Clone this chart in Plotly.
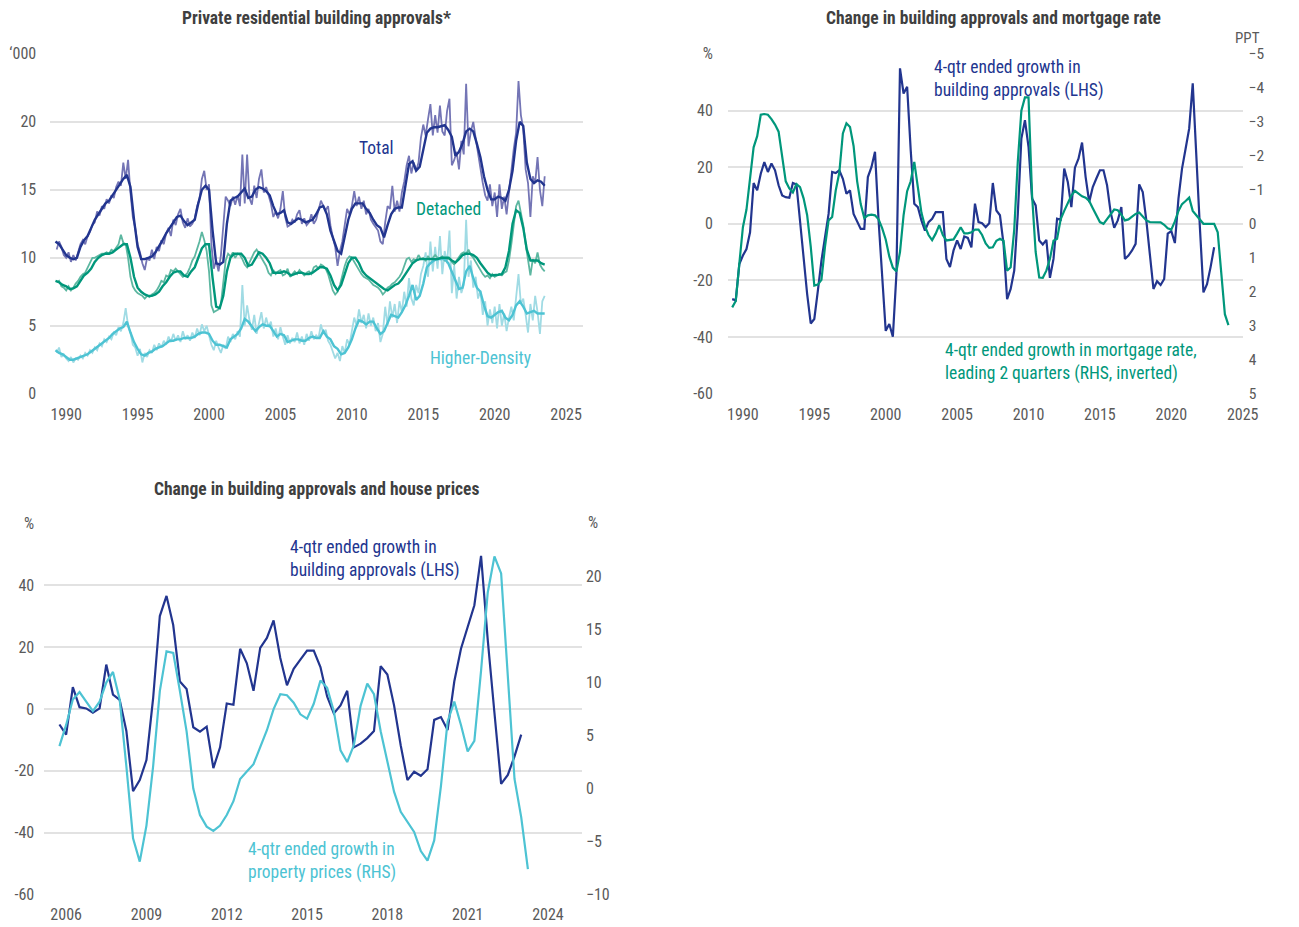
import plotly.graph_objects as go

# ---------------- Chart 1: Private residential building approvals ('000) ----------------
# quarterly trend series, first point 1989.25
total_trend = [11.2, 11.0, 10.6,
    10.2, 10.0, 9.9, 10.0,
    10.8, 11.3, 11.6, 12.2,
    12.8, 13.2, 13.6, 14.0,
    14.2, 14.6, 15.0, 15.4,
    15.8, 16.1, 15.2, 12.8,
    10.8, 9.9, 9.9, 10.0,
    10.1, 10.4, 10.8, 11.3,
    11.8, 12.2, 12.7, 13.0,
    13.1, 12.7, 12.4, 12.6,
    12.8, 14.0, 15.0, 15.3,
    15.0, 12.0, 9.6, 9.5,
    9.7, 12.5, 14.2, 14.4,
    14.5, 14.8, 15.1, 14.4,
    14.5, 15.0, 15.2, 15.1,
    14.9, 14.6, 13.8, 13.2,
    13.3, 13.5, 12.6, 12.5,
    12.7, 12.9, 12.8, 12.6,
    12.7, 12.8, 13.2, 13.7,
    13.8, 13.2, 12.0, 11.2,
    10.5, 10.3, 11.5, 12.8,
    13.6, 14.0, 14.0, 14.0,
    13.6, 13.3, 12.8, 12.4,
    12.2, 11.5, 12.4, 13.2,
    13.6, 13.7, 13.7, 15.2,
    16.9, 17.1, 16.4, 16.7,
    17.9, 19.2, 19.5, 19.6,
    19.6, 19.7, 19.75, 19.4,
    18.9, 17.5, 17.8, 18.4,
    19.3, 19.5, 19.3, 18.4,
    17.4, 16.0, 15.0, 14.3,
    14.3, 14.5, 14.4, 14.2,
    15.0, 16.4, 18.6, 20.0,
    19.7, 17.0, 15.8, 15.5,
    15.7, 15.6, 15.3]

detached_trend = [8.3, 8.2, 8.0,
    7.9, 7.7, 7.75, 7.9,
    8.3, 8.7, 8.9, 9.2,
    9.7, 10.0, 10.2, 10.3,
    10.3, 10.4, 10.6, 10.8,
    11.0, 11.0, 10.0, 8.6,
    7.8, 7.5, 7.3, 7.2,
    7.2, 7.3, 7.5, 7.9,
    8.2, 8.6, 8.9, 9.0,
    9.0, 8.7, 8.6, 9.0,
    9.3, 10.0, 10.7, 11.0,
    11.0, 8.5, 6.4, 6.3,
    7.2, 9.0, 10.0, 10.3,
    10.3, 10.3, 10.0, 9.4,
    9.5, 10.0, 10.4, 10.3,
    10.0, 9.6, 8.9, 8.9,
    8.9, 9.0, 8.9, 8.7,
    8.8, 8.9, 8.9, 8.8,
    8.8, 8.9, 9.1, 9.3,
    9.3, 9.2, 8.7, 8.0,
    7.6, 8.0, 8.8, 9.6,
    10.0, 10.0, 9.6, 9.0,
    8.7, 8.5, 8.3, 8.1,
    7.9, 7.7, 7.6, 7.8,
    8.0, 8.1, 8.4, 8.8,
    9.2, 9.6, 9.8, 9.9,
    9.9, 9.9, 9.9, 9.9,
    9.9, 10.0, 10.0, 10.0,
    9.8, 9.65, 9.9, 10.2,
    10.3, 10.3, 10.2, 10.0,
    9.6, 9.2, 8.9, 8.7,
    8.7, 8.75, 8.8, 9.3,
    10.5, 12.5, 13.5, 13.3,
    12.2, 10.6, 9.8, 9.8,
    9.8, 9.6, 9.5]

density_trend = [3.2, 3.0, 2.9,
    2.7, 2.5, 2.5, 2.6,
    2.7, 2.8, 2.9, 3.1,
    3.3, 3.5, 3.7, 3.9,
    4.1, 4.4, 4.6, 4.8,
    4.9, 5.3, 4.5, 3.8,
    3.3, 2.9, 2.8, 3.0,
    3.1, 3.3, 3.4, 3.5,
    3.7, 3.9, 3.9, 4.0,
    4.0, 4.1, 4.1, 4.1,
    4.2, 4.4, 4.5, 4.5,
    4.4, 3.9, 3.6, 3.6,
    3.5, 3.4, 4.0, 4.2,
    4.4, 4.8, 5.5, 5.3,
    4.9, 4.6, 4.9, 5.1,
    5.0, 5.0, 4.6, 4.2,
    4.4, 4.3, 3.8, 3.9,
    4.0, 4.0, 3.9, 3.9,
    4.1, 4.2, 4.1, 4.1,
    4.6, 4.2, 4.0, 3.5,
    3.3, 2.9, 3.0, 3.4,
    4.0, 4.8, 5.4, 5.3,
    5.1, 5.3, 5.3, 4.8,
    4.4, 4.6, 5.2, 5.8,
    5.7, 5.6, 6.0, 6.5,
    7.2, 8.0, 6.9, 7.2,
    8.1, 9.3, 9.6, 9.8,
    9.9, 9.9, 9.9, 9.6,
    9.0, 8.4, 7.7, 7.8,
    9.0, 9.4, 8.5, 7.8,
    7.5, 6.5, 5.7, 5.6,
    5.8, 6.0, 6.1, 5.6,
    5.4, 5.8, 6.5, 6.8,
    6.4, 5.9, 6.0, 6.1,
    5.9, 5.9, 5.9]

# bi-monthly original series, first point 1989 + 2/6
total_raw = [10.6, 11.2, 10.8, 10.2,
    10.0, 10.4, 9.7, 10.2, 9.8, 10.5,
    11.0, 11.3, 11.0, 11.6, 11.9, 12.4,
    12.6, 13.4, 13.1, 13.8, 13.6, 14.3,
    14.0, 14.6, 14.4, 15.2, 15.6, 15.3,
    17.0, 15.8, 17.2, 14.8, 13.0, 12.2,
    11.0, 10.4, 9.6, 9.1, 10.0, 9.8,
    10.6, 9.9, 10.8, 10.5, 11.3, 11.0,
    11.8, 12.2, 11.6, 12.8, 12.4, 13.2,
    13.6, 12.6, 12.2, 12.9, 12.3, 12.5,
    12.9, 13.8, 14.3, 15.8, 16.4, 15.0,
    15.4, 11.0, 9.2, 9.8, 9.0, 10.2,
    12.2, 14.5, 14.2, 13.8, 14.5, 13.9,
    14.6, 13.8, 17.6, 14.0, 17.6, 14.4,
    13.9, 15.3, 14.4, 15.8, 16.5, 14.8,
    15.2, 14.6, 14.0, 13.0, 13.4, 12.9,
    13.6, 14.9, 13.0, 12.3, 12.4, 12.8,
    12.6, 13.2, 13.5, 12.5, 12.9, 12.4,
    12.6, 13.2, 12.5, 12.8, 13.5, 14.2,
    13.8, 13.5, 13.8, 12.4, 11.5, 10.8,
    9.4, 10.5, 11.2, 12.4, 13.6, 13.2,
    13.8, 14.9, 13.8, 14.5, 13.6, 14.2,
    13.2, 13.6, 12.8, 12.5, 12.2, 12.0,
    11.2, 11.0, 12.6, 13.8, 13.6, 15.3,
    13.4, 14.2, 13.4, 14.8, 15.6, 16.8,
    17.5, 16.2, 17.0, 16.4, 17.0, 18.8,
    19.8, 19.0, 20.2, 21.3, 19.0, 20.5,
    19.2, 21.2, 19.3, 19.0, 20.8, 21.7,
    16.8, 17.2, 17.8, 16.5, 18.6, 17.6,
    22.8, 18.2, 19.3, 20.0, 18.8, 17.5,
    16.6, 15.5, 14.6, 14.2, 15.4, 13.8,
    14.8, 13.0, 15.4, 13.6, 14.5, 13.2,
    14.8, 16.8, 18.0, 19.2, 23.0, 20.5,
    19.5, 16.5, 15.5, 13.0, 16.0, 15.5,
    17.4, 15.0, 13.8, 16.0]

detached_raw = [8.2, 8.3, 7.9, 7.8,
    7.6, 7.9, 7.6, 7.8, 8.1, 8.3,
    8.6, 8.8, 8.9, 9.3, 9.6, 10.0,
    10.0, 10.1, 10.2, 10.3, 10.3, 10.4,
    10.3, 10.6, 10.5, 10.8, 11.0, 11.7,
    11.1, 11.0, 10.0, 8.6, 7.9, 7.6,
    7.4, 7.3, 7.2, 7.0, 7.2, 7.1,
    7.3, 7.4, 7.6, 7.9, 8.3, 8.2,
    8.7, 8.6, 9.1, 9.0, 9.2, 9.0,
    8.8, 8.6, 8.7, 8.9, 9.3, 9.8,
    10.1, 10.6, 11.2, 11.9, 11.3, 10.5,
    9.0, 6.5, 6.0, 6.1, 6.2, 6.6,
    8.0, 9.8, 10.3, 10.1, 10.4, 10.0,
    10.3, 10.2, 9.9, 9.5, 9.3, 9.7,
    10.0, 10.4, 10.6, 10.3, 10.0, 9.7,
    9.4, 8.9, 8.7, 9.1, 8.8, 9.0,
    9.1, 8.7, 8.8, 9.2, 8.6, 8.8,
    9.0, 8.8, 9.1, 8.9, 8.7, 8.9,
    9.0, 8.8, 9.3, 9.4, 9.2, 9.5,
    9.4, 9.2, 8.8, 8.2, 7.6, 7.3,
    7.5, 8.0, 8.8, 9.4, 9.9, 10.1,
    10.0, 9.7, 9.4, 9.0, 8.8, 8.6,
    8.5, 8.4, 8.2, 8.0, 7.9, 7.8,
    7.6, 7.3, 7.5, 7.8, 7.9, 8.1,
    8.2, 8.4, 8.6, 8.9, 9.4, 9.9,
    10.0, 9.7, 9.9, 9.8, 10.2, 9.9,
    10.0, 9.8, 10.1, 9.9, 10.0, 10.2,
    10.0, 9.9, 10.1, 9.8, 9.9, 10.0,
    9.7, 9.5, 9.8, 10.1, 10.3, 10.4,
    10.3, 10.6, 10.2, 10.0, 9.7, 9.3,
    9.0, 8.8, 8.6, 8.7, 8.5, 8.8,
    8.6, 8.7, 8.8, 8.7, 8.9, 9.0,
    9.8, 11.0, 12.6, 13.8, 14.2, 13.4,
    12.4, 11.0, 10.0, 8.7, 9.9, 9.6,
    10.4, 9.5, 9.2, 9.0]

density_raw = [3.0, 3.4, 2.7, 2.9,
    2.6, 2.4, 2.7, 2.3, 2.6, 2.5,
    2.8, 2.6, 3.0, 2.8, 3.2, 3.0,
    3.4, 3.2, 3.7, 3.5, 4.0, 3.8,
    4.2, 4.0, 4.5, 4.3, 4.9, 4.6,
    5.2, 6.3, 5.0, 4.5, 3.6, 3.4,
    2.8, 3.3, 2.3, 3.0, 2.7, 3.2,
    3.0, 3.6, 3.2, 3.7, 3.4, 3.9,
    3.6, 4.2, 3.8, 4.4, 3.9, 4.3,
    3.8, 4.6, 4.0, 4.3, 3.9, 4.5,
    4.1, 4.8, 4.3, 5.1, 4.6, 5.0,
    4.3, 3.6, 3.2, 3.9, 3.4, 3.0,
    3.6, 3.3, 4.2, 3.8, 4.4, 4.0,
    4.6, 4.2, 8.0, 5.0, 6.5, 5.4,
    4.7, 5.8, 4.4, 5.2, 6.0, 4.8,
    5.6, 4.9, 5.3, 4.2, 4.8, 4.0,
    4.9, 4.2, 3.6, 4.3, 3.7, 4.1,
    3.8, 4.5, 3.7, 4.2, 3.6, 4.4,
    3.9, 4.6, 4.0, 4.3, 4.1, 5.1,
    4.4, 4.7, 3.9, 3.6, 3.1, 2.6,
    3.0, 2.4, 3.5, 3.0, 4.0, 3.6,
    4.6, 5.6, 5.0, 6.2, 5.2, 5.8,
    4.8, 5.9, 5.0, 5.6, 4.6, 5.2,
    3.8, 4.4, 6.4, 5.0, 6.8, 5.6,
    6.6, 5.2, 6.8, 6.0, 7.5, 6.4,
    8.5, 7.0, 6.5, 8.0, 7.4, 8.8,
    9.4, 10.4, 8.6, 11.2, 9.0, 10.8,
    9.2, 11.6, 8.8, 10.5, 9.6, 12.0,
    7.4, 9.4, 7.0, 8.6, 7.4, 8.0,
    12.8, 8.6, 9.8, 7.8, 8.6, 7.0,
    7.6, 5.8, 6.8, 5.0, 6.2, 5.2,
    6.4, 4.8, 6.6, 5.0, 5.9, 4.6,
    5.6, 6.4, 5.4, 7.0, 8.8, 6.6,
    7.0, 5.8, 4.5, 6.6, 5.4, 7.2,
    6.0, 4.4, 6.8, 7.2]

# ---------------- Chart 2: approvals growth (%) vs mortgage rate change (PPT) ----------------
# quarterly, first point 1989.25
approvals_growth = [-26.6, -27.0, -14.2,
    -11.2, -8.9, -3.0, 14.4,
    11.8, 17.7, 21.8, 18.3,
    21.3, 18.9, 13.6, 10.0,
    9.4, 9.2, 14.4, 13.9,
    1.2, -13.6, -24.8, -35.2,
    -33.6, -23.6, -13.0, -4.7,
    3.5, 18.3, 17.9, 18.9,
    15.9, 10.6, 11.8, 3.5,
    0.6, -1.8, -1.8, 16.5,
    20.0, 25.4, 1.2, -18.0,
    -37.8, -35.4, -39.9, -17.7,
    54.9, 46.0, 48.4, 26.0,
    7.1, 5.9, 1.2, -2.4,
    0.6, 1.8, 4.1, 4.1,
    4.1, -12.4, -15.3, -9.4,
    -5.9, -8.9, -4.5, -5.0,
    -8.3, 7.1, 0.6, 0.2,
    -1.2, 0.2, 14.4, 4.7,
    3.0, -7.1, -26.6, -23.0,
    -16.5, 3.5, 30.1, 36.6,
    27.2, 8.9, 6.5, -5.9,
    -7.3, -5.7, -19.1, -12.4,
    1.8, 1.4, 19.5, 14.8,
    5.9, 19.8, 23.0, 28.7,
    16.5, 7.7, 13.0, 16.0,
    18.9, 18.9, 13.6, 4.1,
    -1.4, 1.2, 5.9, -12.4,
    -11.2, -9.4, -7.1, 13.9,
    11.2, 1.2, -11.8, -23.0,
    -20.3, -21.6, -19.5, -3.5,
    -2.6, -6.8, 8.9, 19.5,
    26.5, 33.6, 49.6, 22.4,
    -1.2, -24.2, -21.3, -15.3,
    -8.3]

# quarterly, first point 1989.25 (RHS, inverted axis)
mortgage_change = [2.46, 2.27, 1.17,
    0.10, -0.42, -1.25, -2.25,
    -2.58, -3.21, -3.23, -3.21,
    -3.08, -2.92, -2.71, -2.00,
    -1.25, -1.04, -0.92, -1.17,
    -1.08, -0.75, -0.25, 0.67,
    1.82, 1.79, 1.65, 0.67,
    -0.10, -0.20, -0.98, -1.50,
    -2.66, -2.96, -2.85, -2.29,
    -1.25, -0.58, -0.17, -0.25,
    -0.27, -0.25, -0.13, 0.13,
    0.46, 0.96, 1.29, 1.40,
    0.83, -0.25, -0.96, -1.25,
    -1.82, -1.08, -0.33, 0.08,
    0.33, 0.48, 0.29, 0.04,
    0.33, 0.49, 0.48, 0.46,
    0.29, 0.10, 0.28, 0.28,
    0.25, 0.17, 0.17, 0.33,
    0.58, 0.71, 0.69, 0.50,
    0.44, 0.50, 1.38, 1.28,
    0.17, -1.83, -3.33, -3.72,
    -3.72, -0.83, 0.83, 1.58,
    1.59, 1.38, 1.03, 0.50,
    0.44, -0.13, -0.38, -0.63,
    -0.83, -0.97, -0.88, -0.81,
    -0.77, -0.67, -0.46, -0.25,
    -0.05, 0.00, -0.13, -0.29,
    -0.42, -0.40, -0.27, -0.10,
    -0.13, -0.21, -0.29, -0.33,
    -0.20, -0.10, -0.05, -0.05,
    -0.05, -0.04, 0.03, 0.13,
    0.17, -0.07, -0.38, -0.58,
    -0.67, -0.77, -0.38, -0.25,
    -0.10, 0.00, 0.00, 0.00,
    0.00, 0.25, 1.48, 2.66,
    2.98]

# ---------------- Chart 3: approvals growth vs property prices growth (%) ----------------
chart3_start = 2005.75
# quarterly, first point 2005.75 (RHS)
property_growth = [4.0, 6.0, 8.4, 9.1, 8.2, 7.3, 8.2, 10.0, 11.0, 8.4,
    2.1, -4.7, -6.9, -3.5, 2.1, 9.2, 12.95, 12.8, 9.2, 5.4,
    0.0, -2.5, -3.6, -4.0, -3.5, -2.5, -1.2, 0.9, 1.6, 2.3,
    3.9, 5.5, 7.5, 8.9, 8.8, 8.1, 7.0, 6.6, 8.0, 10.2,
    9.5, 7.3, 3.6, 2.5, 4.1, 7.8, 9.9, 8.9, 5.4, 2.5,
    -0.3, -2.2, -3.1, -4.1, -5.9, -6.8, -4.9, 0.2, 6.3, 8.2,
    6.0, 3.5, 4.5, 11.1, 18.5, 21.9, 20.3, 10.8, 0.9, -2.7,
    -7.6]

x1_ticks = [1990, 1995, 2000, 2005, 2010, 2015, 2020, 2025]
x3_ticks = [2006, 2009, 2012, 2015, 2018, 2021, 2024]

# ---------------- styling ----------------
W, H = 1299, 927
FONT = "Liberation Sans Narrow, Roboto Condensed, Arial Narrow, Roboto, sans-serif"
NAVY = "#22358f"
NAVY_LIGHT = "#7475b5"
GREEN = "#00977b"
GREEN_LIGHT = "#5db7a1"
CYAN = "#4dc3d3"
CYAN_LIGHT = "#a0dbe4"
TICK = "#5a5a5a"
TITLE = "#3f3f3f"
GRID = "#e2e2e2"

# capture compensation (observed: x_img = 0.9873*x + 0.8, y_img = 0.98*y + 9.1)
SX, OX, SY, OY = 0.9873, 0.8, 0.98, 9.1


def px(x):
    return ((x - OX) / SX) / W


def py(y):
    return 1 - ((y - OY) / SY) / H


def qx(start, n):
    return [start + 0.25 * i for i in range(n)]


def bx(n):
    return [1989 + (2 + i) / 6 for i in range(n)]


fig = go.Figure()

# chart 1 raw then trend
for vals, col in [(density_raw, CYAN_LIGHT), (detached_raw, GREEN_LIGHT), (total_raw, NAVY_LIGHT)]:
    fig.add_trace(go.Scatter(x=bx(len(vals)), y=vals, mode="lines",
                             line=dict(color=col, width=1.8), xaxis="x", yaxis="y",
                             showlegend=False, hoverinfo="skip"))
for vals, col in [(density_trend, CYAN), (detached_trend, GREEN), (total_trend, NAVY)]:
    fig.add_trace(go.Scatter(x=qx(1989.25, len(vals)), y=vals, mode="lines",
                             line=dict(color=col, width=2.4), xaxis="x", yaxis="y",
                             showlegend=False))

# chart 2
fig.add_trace(go.Scatter(x=qx(1989.25, len(mortgage_change)), y=mortgage_change, mode="lines",
                         line=dict(color=GREEN, width=2.2), xaxis="x2", yaxis="y3", showlegend=False))
fig.add_trace(go.Scatter(x=qx(1989.25, len(approvals_growth)), y=approvals_growth, mode="lines",
                         line=dict(color=NAVY, width=2.2), xaxis="x2", yaxis="y2", showlegend=False))

# chart 3
ax_all = qx(1989.25, len(approvals_growth))
c3_idx = [i for i, v in enumerate(ax_all) if v >= chart3_start - 1e-9]
fig.add_trace(go.Scatter(x=qx(chart3_start, len(property_growth)), y=property_growth, mode="lines",
                         line=dict(color=CYAN, width=2.2), xaxis="x3", yaxis="y5", showlegend=False))
fig.add_trace(go.Scatter(x=[ax_all[i] for i in c3_idx], y=[approvals_growth[i] for i in c3_idx],
                         mode="lines", line=dict(color=NAVY, width=2.2), xaxis="x3", yaxis="y4",
                         showlegend=False))

tickfont = dict(family=FONT, size=16, color=TICK)
top_dom = [py(394), py(54)]
bot_dom = [py(895), py(524)]

common_x = dict(showgrid=False, zeroline=False, showline=False, ticks="", tickfont=tickfont,
                ticklabelstandoff=9)
y_base = dict(zeroline=False, showline=False, ticks="", tickfont=tickfont,
              gridcolor=GRID, gridwidth=2)

fig.update_layout(
    width=W, height=H, autosize=False,
    margin=dict(l=0, r=0, t=0, b=0),
    paper_bgcolor="white", plot_bgcolor="white",
    font=dict(family=FONT, color=TICK),
    hovermode=False,
    xaxis=dict(domain=[px(50), px(583)], anchor="y", range=[1988.88, 2026.18],
               tickvals=x1_ticks, **common_x),
    yaxis=dict(domain=top_dom, anchor="x", range=[0, 25],
               tickvals=[0, 5, 10, 15, 20, 25], ticktext=["0", "5", "10", "15", "20", "\u2018000"],
               ticklabelstandoff=13, **y_base),
    xaxis2=dict(domain=[px(728), px(1243)], anchor="y2", range=[1988.95, 2025.0],
                tickvals=x1_ticks, **common_x),
    yaxis2=dict(domain=top_dom, anchor="x2", range=[-60, 60],
                tickvals=[-60, -40, -20, 0, 20, 40, 60],
                ticktext=["-60", "-40", "-20", "0", "20", "40", "%"],
                ticklabelstandoff=14, **y_base),
    yaxis3=dict(overlaying="y2", side="right", anchor="x2", range=[5, -5],
                tickvals=list(range(-5, 6)), showgrid=False, zeroline=False, ticks="",
                tickfont=dict(family=FONT, size=15.5, color=TICK), ticklabelstandoff=5),
    xaxis3=dict(domain=[px(44), px(582)], anchor="y4", range=[2005.18, 2025.27],
                tickvals=x3_ticks, **common_x),
    yaxis4=dict(domain=bot_dom, anchor="x3", range=[-60, 60],
                tickvals=[-60, -40, -20, 0, 20, 40, 60],
                ticktext=["-60", "-40", "-20", "0", "20", "40", "%"],
                ticklabelstandoff=9, **y_base),
    yaxis5=dict(overlaying="y4", side="right", anchor="x3", range=[-10, 25],
                tickvals=[-10, -5, 0, 5, 10, 15, 20], showgrid=False, zeroline=False, ticks="",
                tickfont=tickfont, ticklabelstandoff=3),
)


def ann(text, x, y, color, size=17.5, bold=False, xanchor="center", yanchor="middle"):
    if bold:
        text = "<b>" + text + "</b>"
    fig.add_annotation(text=text, x=px(x), y=py(y), xref="paper", yref="paper",
                       showarrow=False, xanchor=xanchor, yanchor=yanchor, align="left",
                       font=dict(family=FONT, size=size, color=color))


ann("Private residential building approvals*", 316, 18, TITLE, size=17.5, bold=True)
ann("Change in building approvals and mortgage rate", 994, 18, TITLE, size=17.5, bold=True)
ann("Change in building approvals and house prices", 316, 489, TITLE, size=17.5, bold=True)

ann("Total", 376, 148, NAVY)
ann("Detached", 448, 209, GREEN)
ann("Higher-Density", 480, 358, CYAN)

ann("PPT", 1248, 38, TICK, size=15)
ann("4-qtr ended growth in<br>building approvals (LHS)", 932, 79, NAVY, xanchor="left")
ann("4-qtr ended growth in mortgage rate,<br>leading 2 quarters (RHS, inverted)", 943, 362,
    GREEN, xanchor="left")

ann("%", 593, 523, TICK, size=16)
ann("4-qtr ended growth in<br>building approvals (LHS)", 288, 559, NAVY, xanchor="left")
ann("4-qtr ended growth in<br>property prices (RHS)", 246, 862, CYAN, xanchor="left")

# remove the default page margin so the figure sits at the window origin
fig.write_html("out.html", config={"displayModeBar": False},
               post_script="document.body.style.margin='0';document.body.style.overflow='hidden';")
